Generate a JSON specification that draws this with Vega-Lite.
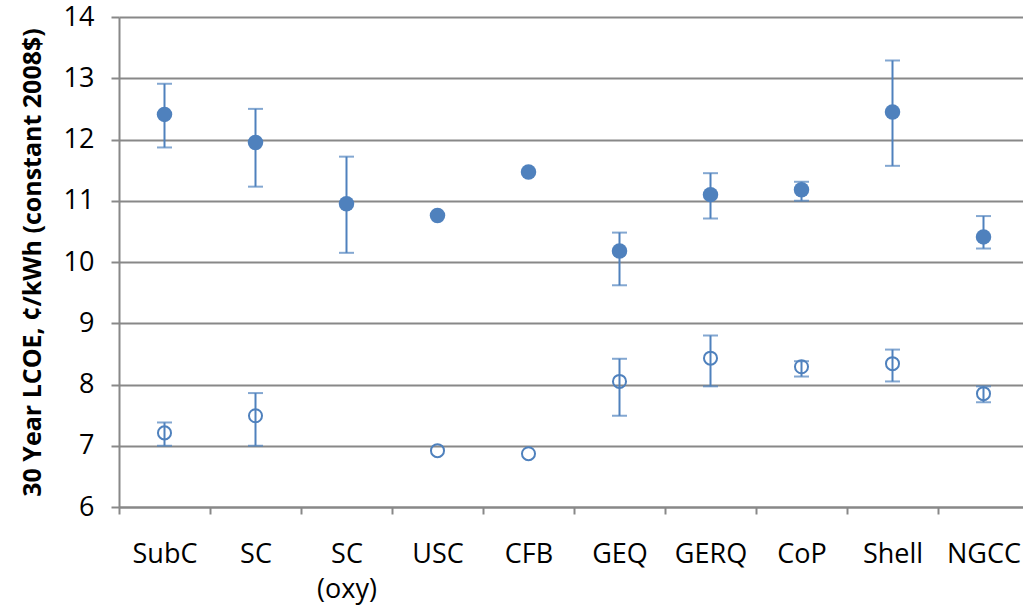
{
  "$schema": "https://vega.github.io/schema/vega-lite/v6.json",
  "autosize": {"type": "none"},
  "padding": {"left": 119, "top": 17, "right": 0, "bottom": 104},
  "width": 910,
  "height": 490,
  "background": "white",
  "config": {
    "view": {"stroke": null},
    "font": "Open Sans",
    "axis": {
      "labelFont": "Open Sans",
      "labelFontSize": 27,
      "labelColor": "black",
      "titleFont": "Open Sans",
      "domainColor": "#888888",
      "domainWidth": 2,
      "tickColor": "#888888",
      "tickWidth": 2,
      "gridColor": "#888888",
      "gridWidth": 2
    }
  },
  "data": {
    "values": [
      {"tech": "SubC", "kind": "filled", "v": 12.41, "lo": 11.87, "hi": 12.91},
      {"tech": "SC", "kind": "filled", "v": 11.95, "lo": 11.23, "hi": 12.50},
      {"tech": "SC (oxy)", "kind": "filled", "v": 10.95, "lo": 10.15, "hi": 11.72},
      {"tech": "USC", "kind": "filled", "v": 10.76, "lo": null, "hi": null},
      {"tech": "CFB", "kind": "filled", "v": 11.47, "lo": null, "hi": null},
      {"tech": "GEQ", "kind": "filled", "v": 10.18, "lo": 9.62, "hi": 10.48},
      {"tech": "GERQ", "kind": "filled", "v": 11.10, "lo": 10.71, "hi": 11.45},
      {"tech": "CoP", "kind": "filled", "v": 11.18, "lo": 11.0, "hi": 11.31},
      {"tech": "Shell", "kind": "filled", "v": 12.45, "lo": 11.57, "hi": 13.29},
      {"tech": "NGCC", "kind": "filled", "v": 10.41, "lo": 10.22, "hi": 10.75},
      {"tech": "SubC", "kind": "open", "v": 7.21, "lo": 7.0, "hi": 7.38},
      {"tech": "SC", "kind": "open", "v": 7.49, "lo": 7.0, "hi": 7.86},
      {"tech": "USC", "kind": "open", "v": 6.92, "lo": null, "hi": null},
      {"tech": "CFB", "kind": "open", "v": 6.87, "lo": null, "hi": null},
      {"tech": "GEQ", "kind": "open", "v": 8.05, "lo": 7.49, "hi": 8.42},
      {"tech": "GERQ", "kind": "open", "v": 8.43, "lo": 7.97, "hi": 8.80},
      {"tech": "CoP", "kind": "open", "v": 8.29, "lo": 8.13, "hi": 8.38},
      {"tech": "Shell", "kind": "open", "v": 8.34, "lo": 8.05, "hi": 8.57},
      {"tech": "NGCC", "kind": "open", "v": 7.85, "lo": 7.71, "hi": 7.97}
    ]
  },
  "encoding": {
    "x": {
      "field": "tech",
      "type": "nominal",
      "sort": ["SubC", "SC", "SC (oxy)", "USC", "CFB", "GEQ", "GERQ", "CoP", "Shell", "NGCC"],
      "scale": {"paddingInner": 0, "paddingOuter": 0},
      "axis": {
        "title": null,
        "labelAngle": 0,
        "tickBand": "extent",
        "tickSize": 7,
        "labelPadding": 27,
        "labelLineHeight": 35,
        "labelExpr": "datum.value == 'SC (oxy)' ? ['SC', '(oxy)'] : datum.value"
      }
    }
  },
  "layer": [
    {
      "transform": [{"filter": "datum.lo != null"}],
      "mark": {"type": "rule", "color": "#4F81BD", "strokeWidth": 2},
      "encoding": {
        "y": {
          "field": "lo",
          "type": "quantitative",
          "scale": {"domain": [6, 14], "nice": false, "zero": false},
          "axis": {
            "title": "30 Year LCOE, ¢/kWh (constant  2008$)",
            "titleFontSize": 25,
            "titleFontWeight": "bold",
            "titleColor": "black",
            "titlePadding": 18,
            "values": [6, 7, 8, 9, 10, 11, 12, 13, 14],
            "format": "d",
            "tickSize": 8,
            "labelPadding": 17,
            "grid": true
          }
        },
        "y2": {"field": "hi"}
      }
    },
    {
      "transform": [{"filter": "datum.lo != null"}],
      "mark": {"type": "tick", "orient": "horizontal", "color": "#4F81BD", "size": 15, "thickness": 2},
      "encoding": {"y": {"field": "lo", "type": "quantitative"}}
    },
    {
      "transform": [{"filter": "datum.hi != null"}],
      "mark": {"type": "tick", "orient": "horizontal", "color": "#4F81BD", "size": 15, "thickness": 2},
      "encoding": {"y": {"field": "hi", "type": "quantitative"}}
    },
    {
      "transform": [{"filter": "datum.kind == 'filled'"}],
      "mark": {"type": "point", "shape": "circle", "filled": true, "color": "#4F81BD", "opacity": 1, "size": 240},
      "encoding": {"y": {"field": "v", "type": "quantitative"}}
    },
    {
      "transform": [{"filter": "datum.kind == 'open'"}],
      "mark": {"type": "point", "shape": "circle", "filled": false, "color": "#4F81BD", "opacity": 1, "strokeWidth": 2, "size": 170},
      "encoding": {"y": {"field": "v", "type": "quantitative"}}
    }
  ]
}
